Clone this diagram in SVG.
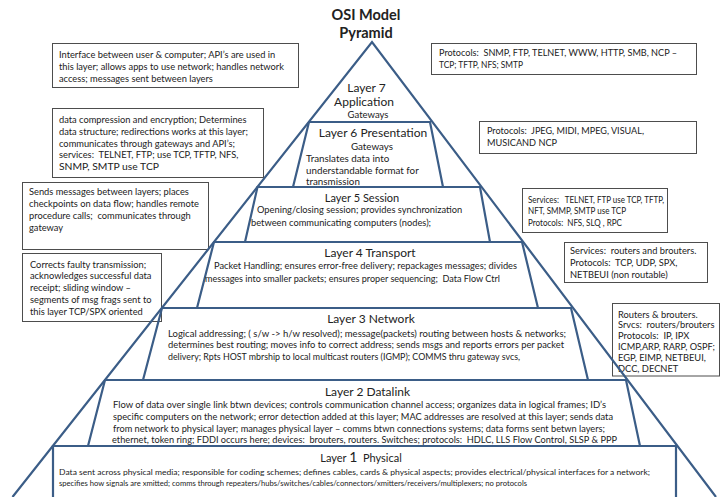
<svg xmlns="http://www.w3.org/2000/svg" width="721" height="497" viewBox="0 0 721 497">
  <style>
    text { font-family: Lato, "Liberation Sans", sans-serif; fill: #222; white-space: pre; }
    .t { font-size: 9.3px; }
    .m { font-size: 9.8px; }
    .s { font-size: 9.3px; }
    .xs { font-size: 8.3px; }
    .h { font-size: 12px; }
    .c { text-anchor: middle; }
    .ttl { font-size: 14.5px; font-weight: bold; }
    .bx { fill: #fff; stroke: #4d4d4d; stroke-width: 1; }
    .ly { fill: none; stroke: #3b5d87; stroke-width: 2.2; stroke-linejoin: miter; }
  </style>
  <rect width="721" height="497" fill="#fff"/>

  <!-- title -->
  <g id="title">
    <text class="ttl c" x="366" y="20">OSI Model</text>
    <text class="ttl c" x="366" y="38">Pyramid</text>
  </g>

  <!-- side notes -->
  <g id="note-app-left">
    <rect class="bx" x="52.5" y="43.5" width="246" height="44"/>
    <text class="t" x="59" y="57.5">Interface between user &amp; computer; API’s are used in</text>
    <text class="t" x="59" y="69.7">this layer; allows apps to use network; handles network</text>
    <text class="t" x="59" y="82">access; messages sent between layers</text>
  </g>
  <g id="note-app-right">
    <rect class="bx" x="431.5" y="43.5" width="265" height="31"/>
    <text class="t" x="439" y="56" textLength="238" lengthAdjust="spacingAndGlyphs">Protocols:  SNMP, FTP, TELNET, WWW, HTTP, SMB, NCP –</text>
    <text class="t" x="439" y="68" textLength="84" lengthAdjust="spacingAndGlyphs">TCP; TFTP, NFS; SMTP</text>
  </g>
  <g id="note-pres-left">
    <rect class="bx" x="52.5" y="108.5" width="211" height="69"/>
    <text class="t" x="59" y="122.7">data compression and encryption; Determines</text>
    <text class="t" x="59" y="134.5">data structure; redirections works at this layer;</text>
    <text class="t" x="59" y="146.5">communicates through gateways and API’s;</text>
    <text class="t" x="59" y="158">services:  TELNET, FTP; use TCP, TFTP, NFS,</text>
    <text class="t" x="59" y="169.5" textLength="100" lengthAdjust="spacingAndGlyphs">SNMP, SMTP use TCP</text>
  </g>
  <g id="note-pres-right">
    <rect class="bx" x="479.5" y="121.5" width="217" height="32"/>
    <text class="t" x="487" y="133.5" textLength="157" lengthAdjust="spacingAndGlyphs">Protocols:  JPEG, MIDI, MPEG, VISUAL,</text>
    <text class="t" x="487" y="145.7" textLength="70" lengthAdjust="spacingAndGlyphs">MUSICAND NCP</text>
  </g>
  <g id="note-sess-left">
    <rect class="bx" x="22.5" y="182.5" width="186" height="67"/>
    <text class="t" x="29" y="194.5">Sends messages between layers; places</text>
    <text class="t" x="29" y="206.8">checkpoints on data flow; handles remote</text>
    <text class="t" x="29" y="219.2">procedure calls;  communicates through</text>
    <text class="t" x="29" y="231.2">gateway</text>
  </g>
  <g id="note-sess-right">
    <rect class="bx" x="522.5" y="188.5" width="145" height="44"/>
    <text class="t" x="528" y="202.5" textLength="136" lengthAdjust="spacingAndGlyphs">Services:   TELNET, FTP use TCP, TFTP,</text>
    <text class="t" x="528" y="213.8" textLength="98" lengthAdjust="spacingAndGlyphs">NFT, SMMP, SMTP use TCP</text>
    <text class="t" x="528" y="225.5" textLength="94" lengthAdjust="spacingAndGlyphs">Protocols:  NFS, SLQ , RPC</text>
  </g>
  <g id="note-trans-left">
    <rect class="bx" x="22.5" y="253.5" width="139" height="68"/>
    <text class="t" x="30" y="267.5">Corrects faulty transmission;</text>
    <text class="t" x="30" y="279">acknowledges successful data</text>
    <text class="t" x="30" y="291">receipt; sliding window –</text>
    <text class="t" x="30" y="302.7">segments of msg frags sent to</text>
    <text class="t" x="30" y="314.5">this layer TCP/SPX oriented</text>
  </g>
  <g id="note-trans-right">
    <rect class="bx" x="564.5" y="242.5" width="143" height="40"/>
    <text class="t" x="570" y="254">Services:  routers and brouters.</text>
    <text class="t" x="570" y="266">Protocols:  TCP, UDP, SPX,</text>
    <text class="t" x="570" y="277.7">NETBEUI (non routable)</text>
  </g>
  <g id="note-net-right">
    <rect class="bx" x="612.5" y="303.5" width="107" height="72.5"/>
    <text class="t" x="618" y="317.5">Routers &amp; brouters.</text>
    <text class="t" x="618" y="328.3">Srvcs:  routers/brouters</text>
    <text class="t" x="618" y="339.1">Protocols:  IP, IPX</text>
    <text class="t" x="618" y="349.9" textLength="97" lengthAdjust="spacingAndGlyphs">ICMP,ARP, RARP, OSPF;</text>
    <text class="t" x="618" y="360.7">EGP, EIMP, NETBEUI,</text>
    <text class="t" x="618" y="371.5">DCC, DECNET</text>
  </g>

  <!-- pyramid: outer triangle plus one trapezoid per layer -->
  <g id="layer7">
    <polyline class="ly" points="12.5,497 372,42 716,497"/>
    <text class="h c" x="366.5" y="91.5">Layer 7</text>
    <text class="h c" x="364" y="106">Application</text>
    <text class="c" style="font-size:9.5px" x="368" y="117.5">Gateways</text>
  </g>
  <g id="layer6">
    <polyline class="ly" points="293,187 309,122 430,122 443,187"/>
    <text class="h c" x="373" y="136.7">Layer 6 Presentation</text>
    <text class="m c" x="372" y="149.5">Gateways</text>
    <text class="m" x="306" y="162.3">Translates data into</text>
    <text class="m" x="306" y="173.7">understandable format for</text>
    <text class="m" x="306" y="185">transmission</text>
  </g>
  <g id="layer5">
    <polyline class="ly" points="245,242 257.5,187 480,187 490,242"/>
    <text class="c" style="font-size:11px" x="362" y="201.5">Layer 5 Session</text>
    <text class="s" x="257" y="213">Opening/closing session; provides synchronization</text>
    <text class="s" x="251" y="225.5">between communicating computers (nodes);</text>
  </g>
  <g id="layer4">
    <polyline class="ly" points="197,308 214,242 522,242 538,308"/>
    <text class="h c" x="370" y="256.5">Layer 4 Transport</text>
    <text class="s" x="214" y="269" textLength="303" lengthAdjust="spacingAndGlyphs">Packet Handling; ensures error-free delivery; repackages messages; divides</text>
    <text class="s" x="205" y="282" textLength="295" lengthAdjust="spacingAndGlyphs">messages into smaller packets; ensures proper sequencing;  Data Flow Ctrl</text>
  </g>
  <g id="layer3">
    <polyline class="ly" points="143,380 162,308 571,308 588,380"/>
    <text class="h c" x="371" y="323">Layer 3 Network</text>
    <text class="s" x="168" y="336.5" textLength="398" lengthAdjust="spacingAndGlyphs">Logical addressing; ( s/w -&gt; h/w resolved); message(packets) routing between hosts &amp; networks;</text>
    <text class="s" x="168" y="348" textLength="396" lengthAdjust="spacingAndGlyphs">determines best routing; moves info to correct address; sends msgs and reports errors per packet</text>
    <text class="s" x="168" y="359.5" textLength="352" lengthAdjust="spacingAndGlyphs">delivery; Rpts HOST mbrship to local multicast routers (IGMP); COMMS thru gateway svcs,</text>
  </g>
  <g id="layer2">
    <polyline class="ly" points="88,446 105,380 626,380 640,446"/>
    <text class="h c" x="367.5" y="395.5">Layer 2 Datalink</text>
    <text class="s" x="113" y="407.5" textLength="493" lengthAdjust="spacingAndGlyphs">Flow of data over single link btwn devices; controls communication channel access; organizes data in logical frames; ID’s</text>
    <text class="s" x="113" y="420" textLength="500" lengthAdjust="spacingAndGlyphs">specific computers on the network; error detection added at this layer; MAC addresses are resolved at this layer; sends data</text>
    <text class="s" x="113" y="432" textLength="492" lengthAdjust="spacingAndGlyphs">from network to physical layer; manages physical layer – comms btwn connections systems; data forms sent betwn layers;</text>
    <text class="s" x="112" y="443.3" textLength="505" lengthAdjust="spacingAndGlyphs">ethernet, token ring; FDDI occurs here; devices:  brouters, routers. Switches; protocols:  HDLC, LLS Flow Control, SLSP &amp; PPP</text>
  </g>
  <g id="layer1">
    <polyline class="ly" points="53,497 53,446 676,446 676,497"/>
    <text class="c" style="font-size:11px" x="361" y="462">Layer <tspan style="font-size:14px">1</tspan>  Physical</text>
    <text class="xs" x="59" y="474.5" textLength="591" lengthAdjust="spacingAndGlyphs">Data sent across physical media; responsible for coding schemes; defines cables, cards &amp; physical aspects; provides electrical/physical interfaces for a network;</text>
    <text class="xs" x="59" y="486" textLength="468" lengthAdjust="spacingAndGlyphs">specifies how signals are xmitted; comms through repeaters/hubs/switches/cables/connectors/xmitters/receivers/multiplexers; no protocols</text>
  </g>
</svg>
